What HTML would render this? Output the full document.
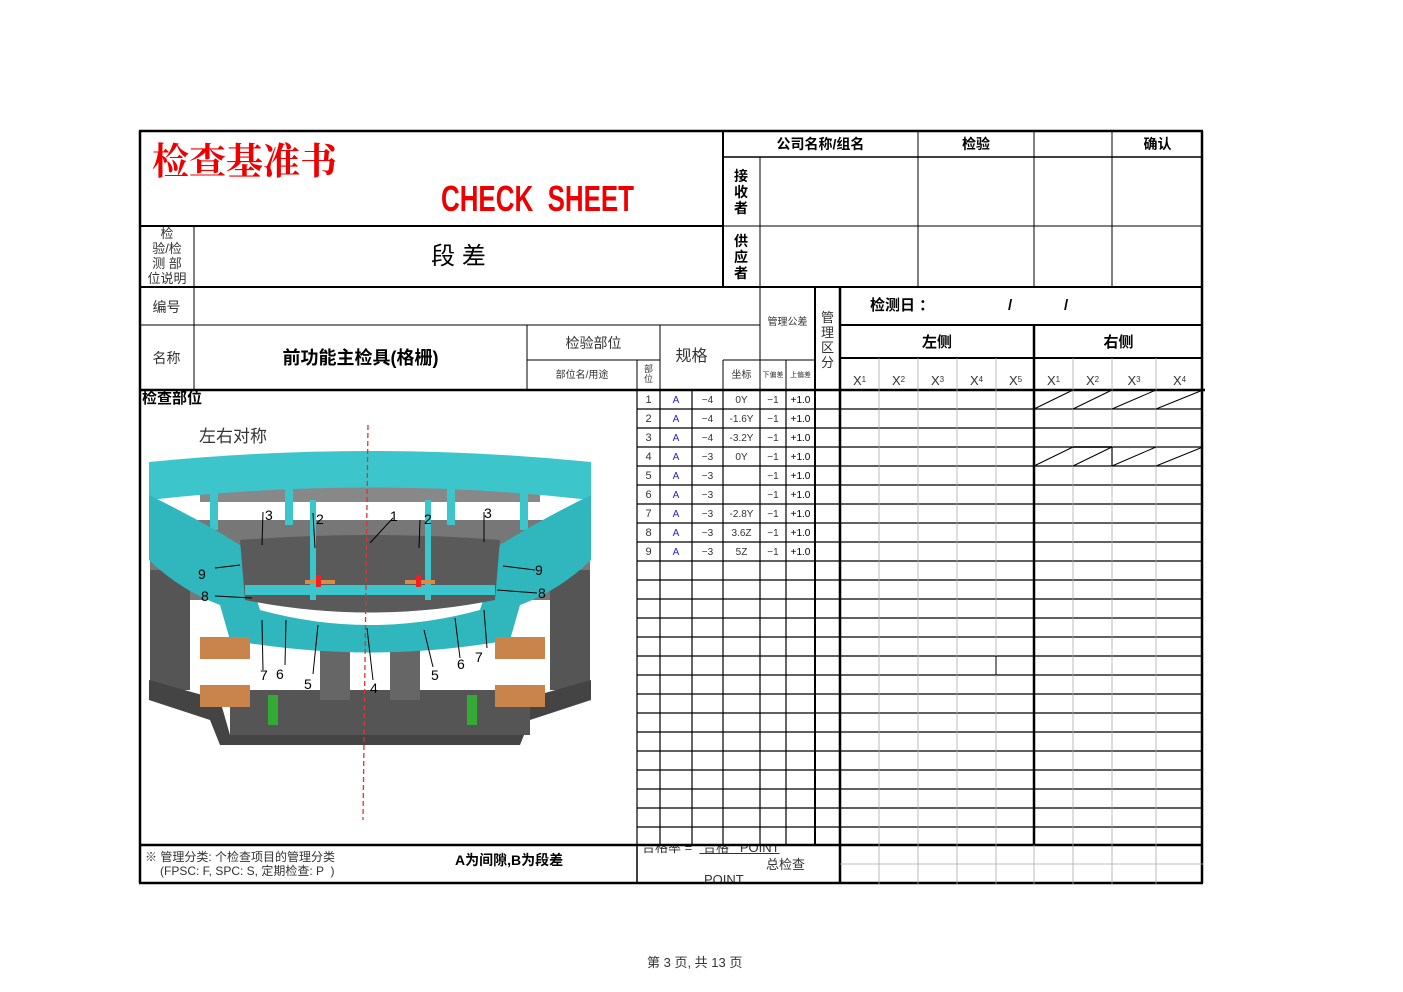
<!DOCTYPE html>
<html><head><meta charset="utf-8"><style>
body{margin:0;width:1403px;height:992px;background:#fff;position:relative;overflow:hidden;font-family:"Liberation Sans","Noto Sans CJK SC",sans-serif;color:#000}
.t{position:absolute;white-space:nowrap;line-height:1}
.c{position:absolute;display:flex;align-items:center;justify-content:center;white-space:nowrap;line-height:1}
sub{font-size:8px;vertical-align:-3px}
</style></head><body>
<div id="g"></div>
<div class="t" style="left:152px;top:140px;font-size:37px;color:#e00;font-family:'Noto Serif CJK SC',serif;font-weight:bold">检查基准书</div>
<div class="t" style="left:441px;top:181px;font-size:36px;color:#e00;font-family:'Liberation Sans',sans-serif;font-weight:bold;transform:scaleX(0.72);transform-origin:left">CHECK&nbsp; SHEET</div>
<div class="c" style="left:723px;top:131px;width:195px;height:26px;font-size:14px;font-weight:bold">公司名称/组名</div>
<div class="c" style="left:918px;top:131px;width:116px;height:26px;font-size:14px;font-weight:bold">检验</div>
<div class="c" style="left:1112px;top:131px;width:91px;height:26px;font-size:14px;font-weight:bold">确认</div>
<div class="t" style="left:734px;top:168px;font-size:14px;font-weight:bold;width:14px;line-height:16px;white-space:normal">接收者</div>
<div class="t" style="left:734px;top:233px;font-size:14px;font-weight:bold;width:14px;line-height:16px;white-space:normal">供应者</div>
<div class="t" style="left:143px;top:226px;font-size:13px;color:#333;width:48px;line-height:15px;white-space:normal;text-align:center;overflow:hidden;height:60px">检<br>验/检<br>测&nbsp;部<br>位说明</div>
<div class="c" style="left:194px;top:227px;width:529px;height:60px;font-size:24px">段 差</div>
<div class="c" style="left:139px;top:288px;width:55px;height:37px;font-size:14px;color:#333">编号</div>
<div class="c" style="left:139px;top:326px;width:55px;height:64px;font-size:14px;color:#333">名称</div>
<div class="c" style="left:194px;top:326px;width:333px;height:64px;font-size:18px;font-weight:bold">前功能主检具(格栅)</div>
<div class="c" style="left:527px;top:326px;width:133px;height:34px;font-size:14px;color:#333">检验部位</div>
<div class="c" style="left:527px;top:361px;width:110px;height:29px;font-size:10px;color:#333">部位名/用途</div>
<div class="t" style="left:644px;top:364px;font-size:9px;width:10px;line-height:10px;white-space:normal;color:#333">部位</div>
<div class="c" style="left:660px;top:340px;width:63px;height:34px;font-size:16px;color:#333">规格</div>
<div class="c" style="left:723px;top:361px;width:37px;height:29px;font-size:10px;color:#333">坐标</div>
<div class="c" style="left:760px;top:305px;width:55px;height:36px;font-size:10px;color:#333">管理公差</div>
<div class="c" style="left:760px;top:361px;width:26px;height:29px;font-size:7px;color:#333">下偏差</div>
<div class="c" style="left:786px;top:361px;width:29px;height:29px;font-size:7px;color:#333">上偏差</div>
<div class="t" style="left:821px;top:310px;font-size:13px;width:14px;line-height:15px;white-space:normal;color:#333">管理区分</div>
<div class="t" style="left:870px;top:298px;font-size:15px;font-weight:bold">检测日 ：</div>
<div class="t" style="left:1008px;top:298px;font-size:15px;font-weight:bold">/</div>
<div class="t" style="left:1064px;top:298px;font-size:15px;font-weight:bold">/</div>
<div class="c" style="left:840px;top:326px;width:194px;height:32px;font-size:15px;font-weight:bold">左侧</div>
<div class="c" style="left:1034px;top:326px;width:169px;height:32px;font-size:15px;font-weight:bold">右侧</div>
<div class="t" style="left:142px;top:391px;font-size:15px;font-weight:bold">检查部位</div>
<div class="t" style="left:199px;top:428px;font-size:17px;color:#333">左右对称</div>
<div class="t" style="left:145px;top:851px;font-size:12px;color:#333">※ 管理分类: 个检查项目的管理分类</div>
<div class="t" style="left:160px;top:865px;font-size:12px;color:#333">(FPSC: F, SPC: S, 定期检查: P &nbsp;)</div>
<div class="t" style="left:455px;top:853px;font-size:14px;font-weight:bold">A为间隙,B为段差</div>
<div style="position:absolute;left:638px;top:846px;width:201px;height:37px;overflow:hidden">
<div class="t" style="left:4px;top:-5px;font-size:13px;color:#333">合格率 = &nbsp;<u>&nbsp;合格 &nbsp;&nbsp;POINT</u></div>
<div class="t" style="left:128px;top:12px;font-size:13px;color:#333">总检查</div>
<div class="t" style="left:66px;top:27px;font-size:13px;color:#333">POINT</div>
</div>
<div class="t" style="left:647px;top:956px;font-size:13px;color:#333">第 3 页,  共 13 页</div>

<svg style="position:absolute;left:0;top:0" width="1403" height="992">
<g>
<rect x="149" y="460" width="442" height="285" fill="#fff"/>
<rect x="200" y="462" width="340" height="40" fill="#888"/>
<rect x="150" y="520" width="440" height="80" fill="#777"/>
<rect x="150" y="570" width="40" height="120" fill="#555"/>
<rect x="550" y="570" width="40" height="120" fill="#555"/>
<polygon points="149,680 220,700 230,735 510,735 520,700 591,680 591,700 530,720 520,745 220,745 210,720 149,700" fill="#444"/>
<rect x="230" y="690" width="300" height="45" fill="#555"/>
<rect x="320" y="640" width="30" height="60" fill="#666"/>
<rect x="390" y="640" width="30" height="60" fill="#666"/>
<path d="M149,462 Q370,440 591,462 L591,500 Q370,475 149,500Z" fill="#3cc6cc"/>
<rect x="210" y="470" width="8" height="60" fill="#3cc6cc"/><rect x="285" y="465" width="8" height="60" fill="#3cc6cc"/><rect x="447" y="465" width="8" height="60" fill="#3cc6cc"/><rect x="520" y="470" width="8" height="60" fill="#3cc6cc"/>
<path d="M149,495 Q200,520 240,545 L260,610 Q370,640 480,610 L500,545 Q540,520 591,495 L591,560 Q560,590 520,605 L510,640 Q370,665 230,640 L220,605 Q180,590 149,560Z" fill="#2fb7bd"/>
<path d="M240,540 Q370,530 500,540 L495,600 Q370,625 245,600Z" fill="#5a5a5a"/>
<rect x="245" y="585" width="250" height="10" fill="#3cc6cc"/>
<rect x="310" y="500" width="6" height="100" fill="#3cc6cc"/>
<rect x="425" y="500" width="6" height="100" fill="#3cc6cc"/>
<rect x="200" y="637" width="50" height="22" fill="#c8844a"/>
<rect x="200" y="685" width="50" height="22" fill="#c8844a"/>
<rect x="495" y="637" width="50" height="22" fill="#c8844a"/>
<rect x="495" y="685" width="50" height="22" fill="#c8844a"/>
<rect x="268" y="695" width="10" height="30" fill="#3a3"/>
<rect x="467" y="695" width="10" height="30" fill="#3a3"/>
<rect x="305" y="580" width="30" height="4" fill="#d84"/>
<rect x="405" y="580" width="30" height="4" fill="#d84"/>
<rect x="316" y="575" width="5" height="12" fill="#e22"/>
<rect x="416" y="575" width="5" height="12" fill="#e22"/>
<line x1="368" y1="425" x2="363" y2="820" stroke="#d33" stroke-width="1.3" stroke-dasharray="5,3"/>
<g stroke="#000" stroke-width="1">
<line x1="263" y1="512" x2="262" y2="545"/><line x1="313" y1="513" x2="315" y2="548"/><line x1="393" y1="518" x2="370" y2="543"/><line x1="420" y1="520" x2="419" y2="548"/><line x1="484" y1="512" x2="484" y2="542"/>
<line x1="215" y1="568" x2="240" y2="565"/><line x1="215" y1="596" x2="252" y2="598"/><line x1="503" y1="566" x2="535" y2="570"/><line x1="497" y1="590" x2="537" y2="593"/>
<line x1="263" y1="670" x2="262" y2="620"/><line x1="285" y1="665" x2="286" y2="620"/><line x1="313" y1="674" x2="318" y2="625"/><line x1="373" y1="680" x2="367" y2="628"/><line x1="433" y1="667" x2="424" y2="630"/><line x1="460" y1="658" x2="455" y2="618"/><line x1="487" y1="648" x2="484" y2="610"/>
</g>
<g font-size="14" font-family="Liberation Sans" fill="#000">
<text x="265" y="520">3</text><text x="316" y="524">2</text><text x="390" y="521">1</text><text x="424" y="524">2</text><text x="484" y="518">3</text>
<text x="198" y="579">9</text><text x="201" y="601">8</text><text x="535" y="575">9</text><text x="538" y="598">8</text>
<text x="260" y="680">7</text><text x="276" y="679">6</text><text x="304" y="689">5</text><text x="370" y="693">4</text><text x="431" y="680">5</text><text x="457" y="669">6</text><text x="475" y="662">7</text>
</g>
</g>
<g id="lines"></g>
</svg>
<script>
var L=document.getElementById('lines'),s='';
function h(x1,x2,y,w,c){s+='<line x1="'+x1+'" x2="'+x2+'" y1="'+y+'" y2="'+y+'" stroke="'+(c||'#000')+'" stroke-width="'+(w||1)+'"/>';}
function v(x,y1,y2,w,c){s+='<line x1="'+x+'" x2="'+x+'" y1="'+y1+'" y2="'+y2+'" stroke="'+(c||'#000')+'" stroke-width="'+(w||1)+'"/>';}
h(139,1203,131,2.5);h(139,1203,883,2.5);v(140,131,883,2.5);v(1202,131,883,2.5);
h(139,723,226,2);h(723,1203,157,1.5);h(723,1203,226,1);h(139,1203,287,2);
v(723,131,287,2);v(760,157,287,1);v(918,131,287,1);v(1034,131,287,1);v(1112,131,287,1);
v(194,226,390,1);
h(139,760,325,1);h(840,1203,325,2);h(840,1203,358,2);h(527,660,360,1);h(723,815,360,1);
v(527,325,390,1);v(660,325,390,1);v(637,360,390,1);v(723,360,390,1);v(760,287,390,1);v(786,360,390,1);
v(815,287,845,2);v(840,287,884,2.5);v(1034,325,845,2.5);
var xs=[840,879,918,957,996,1034],xr=[1034,1073,1112,1156,1203];
var lab='';
for(var i=0;i<5;i++){lab+='<div class="c" style="left:'+xs[i]+'px;top:370px;width:39px;height:20px;font-size:13px;color:#333">X<sub>'+(i+1)+'</sub></div>';}
for(var i=0;i<4;i++){lab+='<div class="c" style="left:'+xr[i]+'px;top:370px;width:'+(xr[i+1]-xr[i])+'px;height:20px;font-size:13px;color:#333">X<sub>'+(i+1)+'</sub></div>';}
h(139,1205,390,2.5);
for(var r=1;r<24;r++){h(637,1203,390+r*19,1.2);}
h(139,1203,845,2.5);
[637,660,692,723,760,786].forEach(function(x){v(x,390,845,1.2);});
v(637,845,884,1.5);
[879,918,957,996].forEach(function(x){v(x,358,884,0.8,'#aaa');});
[1073,1112,1156].forEach(function(x){v(x,358,884,0.8,'#aaa');});
v(1034,845,884,0.8,'#aaa');
h(840,1203,864,0.8,'#aaa');
v(996,656,675,1);
[390,447].forEach(function(y){for(var i=0;i<4;i++){s+='<line x1="'+xr[i]+'" y1="'+(y+19)+'" x2="'+xr[i+1]+'" y2="'+y+'" stroke="#000" stroke-width="1"/>';}});
h(1073,1112,447,1.5);v(1112,447,466,1.2);
var d=[['1','-4','0Y'],['2','-4','-1.6Y'],['3','-4','-3.2Y'],['4','-3','0Y'],['5','-3',''],['6','-3',''],['7','-3','-2.8Y'],['8','-3','3.6Z'],['9','-3','5Z']];
d.forEach(function(row,k){var y=391+k*19;
lab+='<div class="c" style="left:637px;top:'+y+'px;width:23px;height:19px;font-size:11px;color:#333">'+row[0]+'</div>';
lab+='<div class="c" style="left:660px;top:'+y+'px;width:32px;height:19px;font-size:10px;color:#22c">A</div>';
lab+='<div class="c" style="left:692px;top:'+y+'px;width:31px;height:19px;font-size:10px;color:#333">'+row[1].replace('-','−')+'</div>';
lab+='<div class="c" style="left:723px;top:'+y+'px;width:37px;height:19px;font-size:10px;color:#333">'+row[2]+'</div>';
lab+='<div class="c" style="left:760px;top:'+y+'px;width:26px;height:19px;font-size:10px;color:#333">−1</div>';
lab+='<div class="c" style="left:786px;top:'+y+'px;width:29px;height:19px;font-size:10px;color:#000">+1.0</div>';});
L.innerHTML=s;
document.getElementById('g').innerHTML=lab;
</script>
</body></html>
